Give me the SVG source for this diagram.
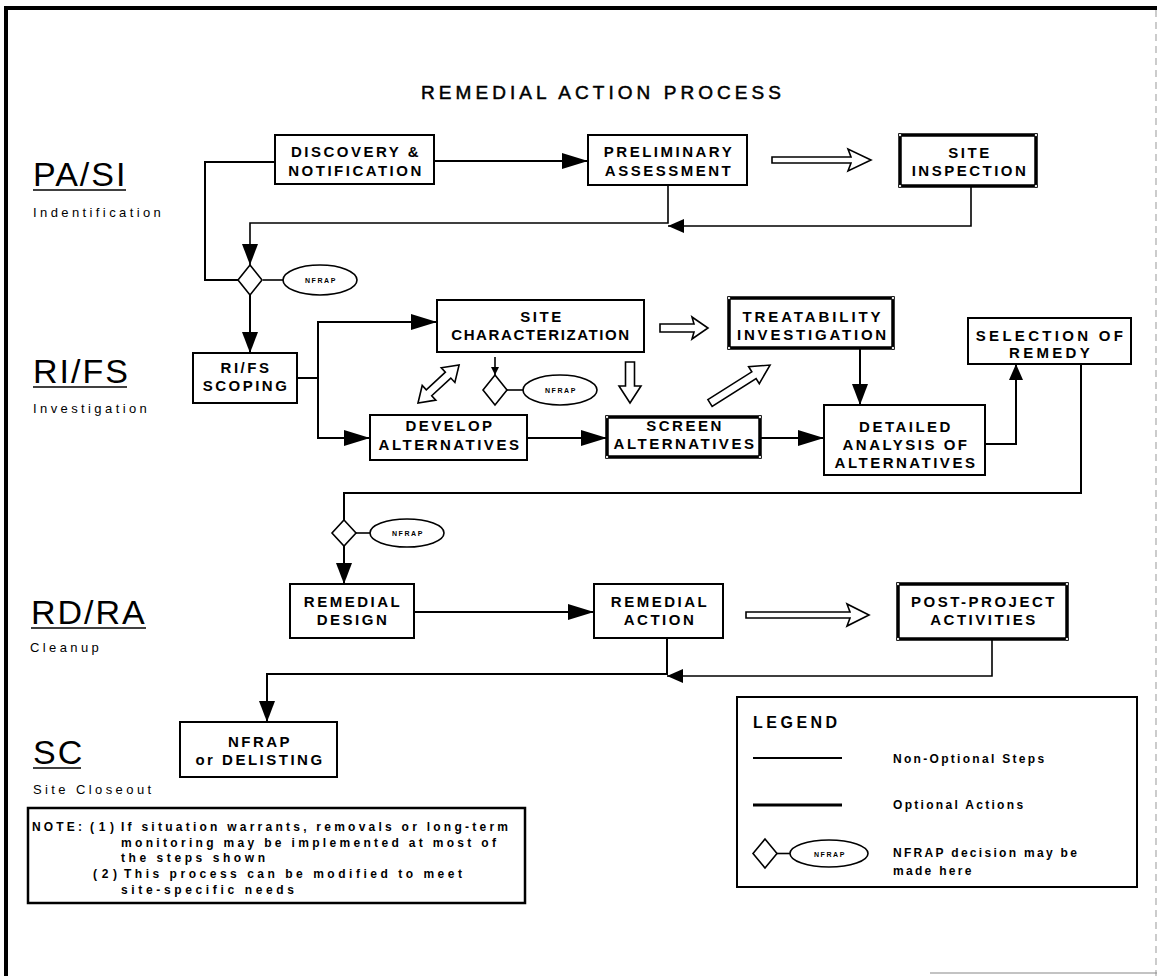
<svg xmlns="http://www.w3.org/2000/svg" width="1159" height="976" viewBox="0 0 1159 976">
  <defs>
    <style>
      text { font-family: "Liberation Sans", Arial, sans-serif; fill: #000; }
      .box { fill: #fff; stroke: #000; stroke-width: 2; }
      .opt { fill: #fff; stroke: #000; stroke-width: 3.5; }
      .dot { fill: #fff; stroke: #000; stroke-width: 0.8; }
      .bt { font-size: 15px; font-weight: bold; letter-spacing: 2.5px; text-anchor: middle; }
      .phase { font-size: 34px; letter-spacing: 2px; }
      .sub { font-size: 13px; letter-spacing: 3.4px; }
      .ul { stroke: #000; stroke-width: 1.6; }
      .ln { fill: none; stroke: #000; stroke-width: 2; }
      .thin { fill: none; stroke: #000; stroke-width: 1.6; }
      .hollow { fill: #fff; stroke: #000; stroke-width: 1.6; stroke-linejoin: miter; }
      .dia { fill: #fff; stroke: #000; stroke-width: 1.6; }
      .ell { fill: #fff; stroke: #000; stroke-width: 1.6; }
      .nf { font-size: 7px; font-weight: bold; letter-spacing: 1.6px; text-anchor: middle; }
      .note { font-size: 12px; font-weight: bold; }
      .leg { font-size: 12px; font-weight: bold; letter-spacing: 2.3px; }
    </style>
    <marker id="arw" markerUnits="userSpaceOnUse" markerWidth="26" markerHeight="16" refX="26" refY="8" orient="auto">
      <path d="M0,0 L26,8 L0,16 z" fill="#000"/>
    </marker>
    <marker id="arwV" markerUnits="userSpaceOnUse" markerWidth="21" markerHeight="16" refX="21" refY="8" orient="auto">
      <path d="M0,0 L21,8 L0,16 z" fill="#000"/>
    </marker>
    <marker id="arwS" markerUnits="userSpaceOnUse" markerWidth="16" markerHeight="14" refX="16" refY="7" orient="auto">
      <path d="M0,0 L16,7 L0,14 z" fill="#000"/>
    </marker>
    <marker id="arwT" markerUnits="userSpaceOnUse" markerWidth="8" markerHeight="8" refX="8" refY="4" orient="auto">
      <path d="M0,0 L8,4 L0,8 z" fill="#000"/>
    </marker>
  </defs>

  <rect width="1159" height="976" fill="#fff"/>

  <!-- page frame -->
  <g id="frame">
    <path d="M6,976 L6,8 L1157,8" fill="none" stroke="#000" stroke-width="4"/>
    <line x1="1156" y1="10" x2="1156" y2="976" stroke="#aaa" stroke-width="1.2" stroke-dasharray="7 5"/>
    <line x1="930" y1="973" x2="1157" y2="973" stroke="#888" stroke-width="1.2"/>
  </g>

  <text id="title" x="421" y="99" font-size="19" stroke="#000" stroke-width="0.5" textLength="360" lengthAdjust="spacing">REMEDIAL ACTION PROCESS</text>

  <!-- phase labels -->
  <g id="phases">
    <text class="phase" x="33" y="186">PA/SI</text>
    <line class="ul" x1="33" y1="190" x2="126" y2="190"/>
    <text class="sub" x="33" y="217">Indentification</text>

    <text class="phase" x="33" y="383">RI/FS</text>
    <line class="ul" x1="33" y1="387" x2="127" y2="387"/>
    <text class="sub" x="33" y="413">Investigation</text>

    <text class="phase" x="31" y="624">RD/RA</text>
    <line class="ul" x1="31" y1="628" x2="146" y2="628"/>
    <text class="sub" x="30" y="652">Cleanup</text>

    <text class="phase" x="33" y="764">SC</text>
    <line class="ul" x1="33" y1="768" x2="81" y2="768"/>
    <text class="sub" x="33" y="794">Site Closeout</text>
  </g>

  <!-- connectors -->
  <g id="connectors">
    <line class="ln" x1="434" y1="161" x2="588" y2="161" marker-end="url(#arw)"/>
    <polyline class="ln" points="275,162 205,162 205,280 240,280" stroke-width="2.6"/>
    <polyline class="thin" points="668,185 668,223 250,223 250,265" marker-end="url(#arwV)"/>
    <polyline class="thin" points="971,186 971,226 668,226" marker-end="url(#arwS)"/>
    <line class="ln" x1="250" y1="295" x2="250" y2="353" marker-end="url(#arwV)"/>
    <line class="thin" x1="263" y1="280" x2="283" y2="280"/>

    <polyline class="ln" points="297,378 318,378 318,322 437,322" marker-end="url(#arw)"/>
    <polyline class="ln" points="318,378 318,438 370,438" marker-end="url(#arw)"/>
    <line class="ln" x1="527" y1="438" x2="607" y2="438" marker-end="url(#arw)"/>
    <line class="ln" x1="760" y1="438" x2="824" y2="438" marker-end="url(#arw)"/>
    <line class="ln" x1="860" y1="348" x2="860" y2="405" marker-end="url(#arwV)"/>
    <polyline class="ln" points="985,444 1016,444 1016,364" marker-end="url(#arwS)"/>
    <line class="thin" x1="495" y1="357" x2="495" y2="375" marker-end="url(#arwT)"/>
    <line class="thin" x1="507" y1="390" x2="523" y2="390"/>

    <polyline class="ln" points="1081,364 1081,493 344,493 344,520"/>
    <line class="thin" x1="356" y1="533" x2="370" y2="533"/>
    <line class="ln" x1="344" y1="546" x2="344" y2="584" marker-end="url(#arwV)"/>
    <line class="ln" x1="414" y1="612" x2="594" y2="612" marker-end="url(#arw)"/>
    <polyline class="ln" points="667,638 667,674 267,674 267,722" marker-end="url(#arwV)"/>
    <polyline class="thin" points="992,639 992,676 667,676" marker-end="url(#arwS)"/>

    <!-- hollow arrows for optional actions -->
    <path class="hollow" d="M772,157 L851,157 L848,149 L871,160 L848,171 L851,163 L772,163 z"/>
    <path class="hollow" d="M746,612 L850,612 L847,604 L869,615 L847,626 L850,618 L746,618 z"/>
    <path class="hollow" d="M660,324 L694,324 L692,317 L708,328 L692,339 L694,332 L660,332 z"/>
    <path class="hollow" d="M625.5,362 L634.5,362 L634.5,386 L641,386 L630,403 L619,386 L625.5,386 z"/>
    <path class="hollow" transform="translate(710,403) rotate(-32.3)" d="M0,-4 L52,-4 L52,-10 L71,0 L52,10 L52,4 L0,4 z"/>
    <path class="hollow" transform="translate(418,403) rotate(-42.8)" d="M0,0 L15,-10 L15,-4 L41,-4 L41,-10 L56,0 L41,10 L41,4 L15,4 L15,10 z"/>
  </g>

  <!-- process steps -->
  <g id="discovery">
    <rect class="box" x="275" y="135" width="159" height="49"/>
    <text class="bt" x="356" y="157">DISCOVERY &amp;</text>
    <text class="bt" x="356" y="176">NOTIFICATION</text>
  </g>
  <g id="preliminary">
    <rect class="box" x="588" y="135" width="159" height="50"/>
    <text class="bt" x="669" y="157">PRELIMINARY</text>
    <text class="bt" x="669" y="176">ASSESSMENT</text>
  </g>
  <g id="site-inspection">
    <rect class="opt" x="900" y="135" width="136" height="51"/>
    <circle class="dot" cx="900" cy="135" r="1.6"/><circle class="dot" cx="1036" cy="135" r="1.6"/>
    <circle class="dot" cx="900" cy="186" r="1.6"/><circle class="dot" cx="1036" cy="186" r="1.6"/>
    <text class="bt" x="970" y="158">SITE</text>
    <text class="bt" x="970" y="176">INSPECTION</text>
  </g>
  <g id="nfrap-1">
    <path class="dia" d="M250,265 L262,280 L250,295 L238,280 z"/>
    <ellipse class="ell" cx="320" cy="280" rx="37" ry="15"/>
    <text class="nf" x="321" y="283">NFRAP</text>
  </g>

  <g id="scoping">
    <rect class="box" x="193" y="353" width="104" height="50"/>
    <text class="bt" x="246" y="373">RI/FS</text>
    <text class="bt" x="246" y="391">SCOPING</text>
  </g>
  <g id="site-characterization">
    <rect class="box" x="437" y="300" width="207" height="52"/>
    <text class="bt" x="542" y="322">SITE</text>
    <text class="bt" x="541" y="340" style="letter-spacing:1.6px">CHARACTERIZATION</text>
  </g>
  <g id="treatability">
    <rect class="opt" x="729" y="298" width="164" height="50"/>
    <circle class="dot" cx="729" cy="298" r="1.6"/><circle class="dot" cx="893" cy="298" r="1.6"/>
    <circle class="dot" cx="729" cy="348" r="1.6"/><circle class="dot" cx="893" cy="348" r="1.6"/>
    <text class="bt" x="813" y="322" style="letter-spacing:2.9px">TREATABILITY</text>
    <text class="bt" x="813" y="340" style="letter-spacing:2.8px">INVESTIGATION</text>
  </g>
  <g id="selection">
    <rect class="box" x="968" y="318" width="163" height="46"/>
    <text class="bt" x="1051" y="341" style="letter-spacing:3.3px">SELECTION OF</text>
    <text class="bt" x="1051" y="358" style="letter-spacing:3.3px">REMEDY</text>
  </g>
  <g id="nfrap-2">
    <path class="dia" d="M495,375 L507,390 L495,405 L483,390 z"/>
    <ellipse class="ell" cx="560" cy="390" rx="37" ry="15"/>
    <text class="nf" x="561" y="393">NFRAP</text>
  </g>
  <g id="develop">
    <rect class="box" x="370" y="415" width="157" height="45"/>
    <text class="bt" x="450" y="431">DEVELOP</text>
    <text class="bt" x="450" y="450">ALTERNATIVES</text>
  </g>
  <g id="screen">
    <rect class="opt" x="607" y="417" width="153" height="40"/>
    <circle class="dot" cx="607" cy="417" r="1.6"/><circle class="dot" cx="760" cy="417" r="1.6"/>
    <circle class="dot" cx="607" cy="457" r="1.6"/><circle class="dot" cx="760" cy="457" r="1.6"/>
    <text class="bt" x="685" y="431">SCREEN</text>
    <text class="bt" x="685" y="449">ALTERNATIVES</text>
  </g>
  <g id="detailed">
    <rect class="box" x="824" y="405" width="161" height="70"/>
    <text class="bt" x="906" y="432">DETAILED</text>
    <text class="bt" x="906" y="450">ANALYSIS OF</text>
    <text class="bt" x="906" y="468">ALTERNATIVES</text>
  </g>

  <g id="nfrap-3">
    <path class="dia" d="M344,520 L356,533 L344,546 L332,533 z"/>
    <ellipse class="ell" cx="407" cy="533" rx="37" ry="14"/>
    <text class="nf" x="408" y="536">NFRAP</text>
  </g>
  <g id="remedial-design">
    <rect class="box" x="290" y="584" width="124" height="54"/>
    <text class="bt" x="353" y="607">REMEDIAL</text>
    <text class="bt" x="353" y="625">DESIGN</text>
  </g>
  <g id="remedial-action">
    <rect class="box" x="594" y="584" width="129" height="54"/>
    <text class="bt" x="660" y="607">REMEDIAL</text>
    <text class="bt" x="660" y="625">ACTION</text>
  </g>
  <g id="post-project">
    <rect class="opt" x="898" y="584" width="169" height="55"/>
    <circle class="dot" cx="898" cy="584" r="1.6"/><circle class="dot" cx="1067" cy="584" r="1.6"/>
    <circle class="dot" cx="898" cy="639" r="1.6"/><circle class="dot" cx="1067" cy="639" r="1.6"/>
    <text class="bt" x="984" y="607">POST-PROJECT</text>
    <text class="bt" x="984" y="625">ACTIVITIES</text>
  </g>
  <g id="closeout">
    <rect class="box" x="180" y="722" width="157" height="55"/>
    <text class="bt" x="260" y="747">NFRAP</text>
    <text class="bt" x="260" y="765">or DELISTING</text>
  </g>

  <!-- note -->
  <g id="note">
    <rect x="28" y="808" width="497" height="95" fill="#fff" stroke="#000" stroke-width="2.5"/>
    <text class="note" x="32" y="831" textLength="50" lengthAdjust="spacing">NOTE:</text>
    <text class="note" x="90" y="831" textLength="24" lengthAdjust="spacing">(1)</text>
    <text class="note" x="121" y="831" textLength="387" lengthAdjust="spacing">If situation warrants, removals or long-term</text>
    <text class="note" x="121" y="847" textLength="375" lengthAdjust="spacing">monitoring may be implemented at most of</text>
    <text class="note" x="121" y="862" textLength="144" lengthAdjust="spacing">the steps shown</text>
    <text class="note" x="93" y="878" textLength="24" lengthAdjust="spacing">(2)</text>
    <text class="note" x="124" y="878" textLength="338" lengthAdjust="spacing">This process can be modified to meet</text>
    <text class="note" x="121" y="894" textLength="173" lengthAdjust="spacing">site-specific needs</text>
  </g>

  <!-- legend -->
  <g id="legend">
    <rect x="737" y="697" width="400" height="190" fill="#fff" stroke="#000" stroke-width="2"/>
    <text x="753" y="728" font-size="16" font-weight="bold" letter-spacing="3.5">LEGEND</text>
    <line x1="753" y1="758" x2="842" y2="758" stroke="#000" stroke-width="2.2"/>
    <text class="leg" x="893" y="763">Non-Optional Steps</text>
    <line x1="753" y1="805" x2="842" y2="805" stroke="#000" stroke-width="2.8"/>
    <text class="leg" x="893" y="809">Optional Actions</text>
    <path class="dia" d="M765,839 L777,853.5 L765,868 L753,853.5 z"/>
    <line class="thin" x1="777" y1="853.5" x2="790" y2="853.5"/>
    <ellipse class="ell" cx="829" cy="853.5" rx="39" ry="13.5"/>
    <text class="nf" x="830" y="856.5">NFRAP</text>
    <text class="leg" x="893" y="857">NFRAP decision may be</text>
    <text class="leg" x="893" y="875">made here</text>
  </g>
</svg>
